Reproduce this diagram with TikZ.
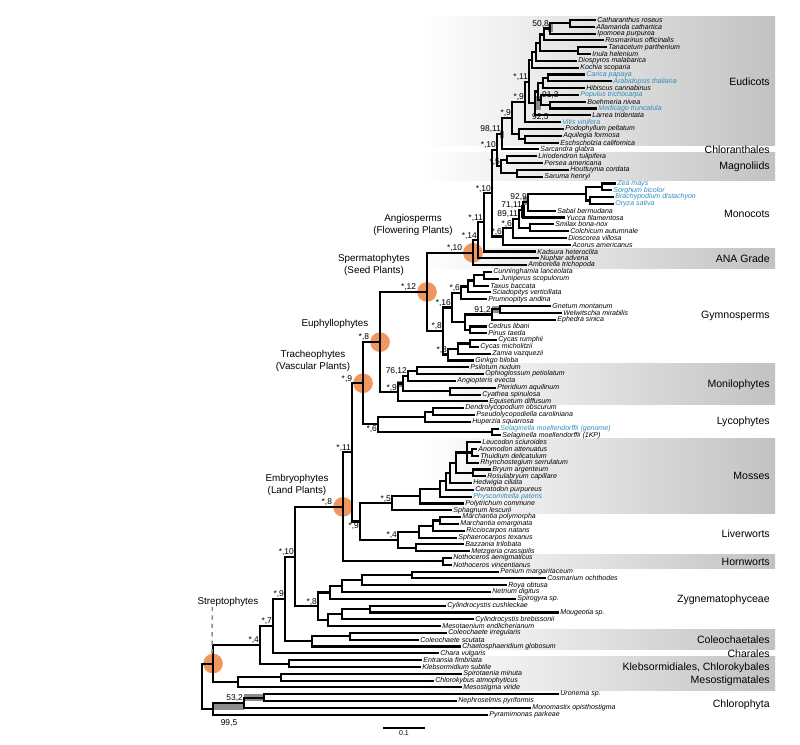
\documentclass[tikz,border=0pt]{standalone}
\usepackage{fontspec}
\setmainfont{Liberation Sans}
\usetikzlibrary{calc,backgrounds}
\definecolor{sppblue}{RGB}{45,140,185}
\definecolor{nodeorange}{RGB}{240,150,95}
\definecolor{boxgray}{RGB}{140,140,140}
\tikzset{
  branch/.style={line width=1.5pt},
  leaf/.style={font=\fontsize{5}{6}\selectfont\itshape, anchor=west, inner sep=0.8pt},
  supp/.style={font=\fontsize{6}{7}\selectfont, inner sep=0.6pt},
  grp/.style={font=\fontsize{7.5}{9}\selectfont, anchor=east, inner sep=0pt},
  note/.style={font=\fontsize{7}{8.5}\selectfont, align=center, inner sep=0pt},
  hit/.style={fill=nodeorange, draw=none},
  ubox/.style={fill=boxgray, draw=none},
}
% clade: name, x, children (first and last fix the height)
\newcommand{\mkclade}[3]{%
  \foreach \ch [count=\k] in {#3}{\ifnum\k=1 \xdef\cfirst{\ch}\fi\xdef\clast{\ch}}%
  \path ($(\cfirst)!.5!(\clast)$) coordinate (#1m);
  \coordinate (#1) at (#2,0 |- #1m);
  \foreach \ch in {#3}{\draw[branch] (#1) |- (\ch);}
}
\newcommand{\supp}[3][]{\node[supp, anchor=south east, #1] (b-#2) at (#2) {#3};}
\newcommand{\band}[2]{\shade[left color=white, right color=black!24] (420,{16.6+6.81*(#1-1)}) rectangle (775,{23.4+6.81*(#2-1)});}
\begin{document}
\begin{tikzpicture}[x=0.025cm, y=-0.025cm]
\useasboundingbox (0,0) rectangle (800,744);

% leaves
\foreach \nm/\tx/\col [count=\i] in {
  Catharanthus roseus/596/black, Allamanda cathartica/595/black,
  Ipomoea purpurea/596/black, Rosmarinus officinalis/604/black,
  Tanacetum parthenium/607/black, Inula helenium/591/black,
  Diospyros malabarica/577/black, Kochia scoparia/579/black,
  Carica papaya/585/sppblue, Arabidopsis thaliana/612/sppblue,
  Hibiscus cannabinus/585/black, Populus trichocarpa/579/sppblue,
  Boehmeria nivea/586/black, Medicago truncatula/597/sppblue,
  Larrea tridentata/591/black, Vitis vinifera/561/sppblue,
  Podophyllum peltatum/564/black, Aquilegia formosa/562/black,
  Eschscholzia californica/559/black, Sarcandra glabra/539/black,
  Liriodendron tulipifera/537/black, Persea americana/543/black,
  Houttuynia cordata/569/black, Saruma henryi/543/black,
  Zea mays/616/sppblue, Sorghum bicolor/612/sppblue,
  Brachypodium distachyon/614/sppblue, Oryza sativa/614/sppblue,
  Sabal bermudana/556/black, Yucca filamentosa/565/black,
  Smilax bona-nox/554/black, Colchicum autumnale/569/black,
  Dioscorea villosa/567/black, Acorus americanus/571/black,
  Kadsura heteroclita/536/black, Nuphar advena/539/black,
  Amborella trichopoda/527/black,
  Cunninghamia lanceolata/492/black, Juniperus scopulorum/499/black,
  Taxus baccata/489/black, Sciadopitys verticillata/491/black,
  Prumnopitys andina/487/black, Gnetum montanum/551/black,
  Welwitschia mirabilis/562/black, Ephedra sinica/556/black,
  Cedrus libani/487/black, Pinus taeda/487/black,
  Cycas rumphii/497/black, Cycas micholitzii/479/black,
  Zamia vazquezii/491/black, Ginkgo biloba/474/black,
  Psilotum nudum/469/black, Ophioglossum petiolatum/484/black,
  Angiopteris evecta/456/black, Pteridium aquilinum/496/black,
  Cyathea spinulosa/481/black, Equisetum diffusum/488/black,
  Dendrolycopodium obscurum/464/black, Pseudolycopodiella caroliniana/475/black,
  Huperzia squarrosa/471/black, Selaginella moellendorffii (genome)/499/sppblue,
  Selaginella moellendorffii (1KP)/501/black,
  Leucodon sciuroides/481/black, Anomodon attenuatus/477/black,
  Thuidium delicatulum/479/black, Rhynchostegium serrulatum/479/black,
  Bryum argenteum/491/black, Rosulabryum capillare/486/black,
  Hedwigia ciliata/472/black, Ceratodon purpureus/474/black,
  Physcomitrella patens/472/sppblue, Polytrichum commune/464/black,
  Sphagnum lescurii/452/black,
  Marchantia polymorpha/461/black, Marchantia emarginata/459/black,
  Ricciocarpos natans/465/black, Sphaerocarpos texanus/457/black,
  Bazzania trilobata/464/black, Metzgeria crassipilis/470/black,
  Nothoceros aenigmaticus/452/black, Nothoceros vincentianus/452/black,
  Penium margaritaceum/499/black, Cosmarium ochthodes/546/black,
  Roya obtusa/507/black, Netrium digitus/491/black,
  Spirogyra sp./516/black, Cylindrocystis cushleckae/446/black,
  Mougeotia sp./559/black, Cylindrocystis brebissonii/474/black,
  Mesotaenium endlicherianum/441/black,
  Coleochaete irregularis/447/black, Coleochaete scutata/419/black,
  Chaetosphaeridium globosum/461/black, Chara vulgaris/439/black,
  Entransia fimbriata/422/black, Klebsormidium subtile/421/black,
  Spirotaenia minuta/462/black, Chlorokybus atmophyticus/434/black,
  Mesostigma viride/462/black,
  Uronema sp./559/black, Nephroselmis pyriformis/457/black,
  Monomastix opisthostigma/531/black, Pyramimonas parkeae/488/black}{
  \coordinate (L\i) at (\tx,{20+6.81*(\i-1)});
  \node[leaf, text=\col] (T\i) at (L\i) {\nm};
}

% Eudicots
\mkclade{e1}{570}{L1,L2}
\mkclade{e2}{550}{e1,L3}
\mkclade{e3}{544}{e2,L4}
\mkclade{e4}{578}{L5,L6}
\mkclade{e5}{540}{e3,e4}
\mkclade{e6}{536}{e5,L7}
\mkclade{e7}{532}{e6,L8}
\mkclade{r1}{548}{L9,L10}
\mkclade{r2}{543}{r1,L11}
\mkclade{r3}{550}{L13,L14}
\mkclade{r4}{541}{L12,r3}
\mkclade{r5}{538}{r2,r4}
\mkclade{r6}{535}{r5,L15}
\mkclade{e8}{529}{e7,r6}
\mkclade{e9}{525}{e8,L16}
\mkclade{p1}{525}{L18,L19}
\mkclade{p2}{519}{L17,p1}
\mkclade{e10}{512}{e9,p2}
\mkclade{a2}{502}{e10,L20}
% Magnoliids
\mkclade{m1}{507}{L21,L22}
\mkclade{m2}{517}{L23,L24}
\mkclade{mag}{501}{m1,m2}
\mkclade{a3}{497}{a2,mag}
% Monocots
\mkclade{n1}{602}{L25,L26}
\mkclade{n2}{590}{L27,L28}
\mkclade{n3}{586}{n1,n2}
\mkclade{n4}{528}{n3,L29}
\mkclade{n5}{523}{n4,L30}
\mkclade{n6}{530}{L31,L32}
\mkclade{n7}{519}{n5,n6}
\mkclade{n8}{513}{n7,L33}
\mkclade{mono}{503}{n8,L34}
\mkclade{a4}{492}{a3,mono}
% ANA grade
\mkclade{a5}{484}{a4,L35}
\mkclade{a6}{478}{a5,L36}
\mkclade{a7}{473}{a6,L37}
% Gymnosperms
\mkclade{c1}{484}{L38,L39}
\mkclade{c2}{474}{c1,L40}
\mkclade{c3}{468}{c2,L41}
\mkclade{c4}{461}{c3,L42}
\mkclade{g1}{500}{L43,L44}
\mkclade{g2}{492}{g1,L45}
\mkclade{pin}{470}{L46,L47}
\mkclade{g3}{465}{g2,pin}
\mkclade{g4}{452}{c4,g3}
\mkclade{y1}{470}{L48,L49}
\mkclade{y2}{458}{y1,L50}
\mkclade{y3}{448}{y2,L51}
\mkclade{gym}{443}{g4,y3}
\mkclade{seed}{427}{a7,gym}
% Monilophytes
\mkclade{f1}{417}{L52,L53}
\mkclade{f2}{408}{f1,L54}
\mkclade{f3}{450}{L55,L56}
\mkclade{f4}{403}{f2,f3}
\mkclade{f5}{398}{f4,L57}
\mkclade{eu}{380}{seed,f5}
% Lycophytes
\mkclade{l1}{433}{L58,L59}
\mkclade{l2}{425}{l1,L60}
\mkclade{l3}{492}{L61,L62}
\mkclade{lyc}{378}{l2,l3}
\mkclade{tr}{363}{eu,lyc}
% Mosses
\mkclade{s1}{472}{L64,L65}
\mkclade{s2}{467}{L63,s1,L66}
\mkclade{s3}{473}{L67,L68}
\mkclade{s4}{456}{s2,s3}
\mkclade{s5}{450}{s4,L69}
\mkclade{s6}{446}{s5,L70}
\mkclade{s7}{440}{s6,L71}
\mkclade{s8}{420}{s7,L72}
\mkclade{moss}{392}{s8,L73}
% Liverworts
\mkclade{v1}{440}{L74,L75}
\mkclade{v2}{433}{v1,L76}
\mkclade{v3}{419}{v2,L77}
\mkclade{v4}{416}{L78,L79}
\mkclade{liv}{398}{v3,v4}
\mkclade{bry}{360}{moss,liv}
\mkclade{t11}{352}{tr,bry}
% Hornworts
\mkclade{horn}{443}{L80,L81}
\mkclade{emb}{343}{t11,horn}
% Zygnematophyceae
\mkclade{z1}{412}{L82,L83}
\mkclade{z2}{362}{z1,L84}
\mkclade{z3}{342}{z2,L85}
\mkclade{z4}{330}{z3,L86}
\mkclade{z5}{370}{L87,L88}
\mkclade{z6}{342}{z5,L89}
\mkclade{z7}{328}{z6,L90}
\mkclade{zyg}{318}{z4,z7}
\mkclade{k10}{295}{emb,zyg}
% Coleochaetales, Charales, Klebsormidiales
\mkclade{o1}{350}{L91,L92}
\mkclade{col}{312}{o1,L93}
\mkclade{k9}{285}{k10,col}
\mkclade{k8}{273}{k9,L94}
\mkclade{kl}{289}{L95,L96}
\mkclade{k7}{260}{k8,kl}
\mkclade{me1}{281}{L97,L98}
\mkclade{meso}{238}{me1,L99}
\mkclade{str}{213}{k7,meso}
% Chlorophyta
\mkclade{h1}{264}{L100,L101}
\mkclade{h2}{244}{h1,L102}
\mkclade{chl}{213}{h2,L103}
\mkclade{root}{202}{str,chl}

% support values
\supp{e2}{50,8} \supp{e8}{*,11} \supp{e9}{*,9} \supp{e10}{*,9}
\supp{a2}{98,11} \supp{a3}{*,10} \supp{mag}{*,5} \supp{a4}{*,10}
\supp{n4}{92,9} \supp{n5}{71,11} \supp{n7}{89,11} \supp{n8}{*,6}
\supp{mono}{*,6} \supp{a5}{*,11} \supp{a6}{*,14} \supp[xshift=-7pt]{a7}{*,10}
\supp{c4}{*,6} \supp{g2}{91,2} \supp{g4}{*,16} \supp{y3}{*,8}
\supp{gym}{*,8} \supp[xshift=-7pt]{seed}{*,12} \supp{f2}{76,12} \supp{f5}{*,9}
\supp[xshift=-7pt]{eu}{*,8} \supp[anchor=north east]{lyc}{*,6}
\supp[xshift=-7pt]{tr}{*,9} \supp{t11}{*,11} \supp{moss}{*,5} \supp{liv}{*,4}
\supp[anchor=north east]{bry}{*,9} \supp[xshift=-7pt]{emb}{*,8}
\supp{zyg}{*,8} \supp{k10}{*,10} \supp{k9}{*,9} \supp{k8}{*,7}
\supp{k7}{*,4} \supp{h2}{53,2}
\node[supp, anchor=south west] (b-r4) at (r4) {91,3};
\node[supp, anchor=south west] (b-vit) at ($(e9|-L16)+(6,0)$) {92,5};
\node[supp, anchor=north] (b-chl) at ($(chl)+(16,10)$) {99,5};

% named clades
\node[note] (angio) at (413,225) {Angiosperms\\(Flowering Plants)};
\node[note] (sperm) at (374,265) {Spermatophytes\\(Seed Plants)};
\node[note] (euph) at (335,324) {Euphyllophytes};
\node[note] (trach) at (313,361) {Tracheophytes\\(Vascular Plants)};
\node[note] (embr) at (297,485) {Embryophytes\\(Land Plants)};
\node[note] (strlab) at (228,602) {Streptophytes};
\coordinate (strtip) at ($(str)+(-1,-9)$);
\draw[boxgray, dashed, line width=1.1pt] ($(strlab.south west)+(15,0)$) -- (strtip);

% groups on the right
\foreach \gn/\gy [count=\j] in {Eudicots/81.3, Chloranthales/149.4, Magnoliids/166.4,
  Monocots/214, ANA Grade/258.3, Gymnosperms/316, Monilophytes/384.7, Lycophytes/421.8,
  Mosses/476, Liverworts/534, Hornworts/562, Zygnematophyceae/599.4,
  Coleochaetales/640.2, Charales/653.3, Mesostigmatales/681, Chlorophyta/705}
  \node[grp] (G\j) at (770,\gy) {\gn};
\node[grp] (Gkc) at (770,668) {Klebsormidiales, Chlorokybales};

% scale bar
\coordinate (sb0) at (383,728);
\coordinate (sb1) at (425,728);
\draw[line width=1.2pt] (sb0) -- (sb1);
\node[font=\fontsize{5}{6}\selectfont, below, inner sep=1.5pt] (sbl) at ($(sb0)!.5!(sb1)$) {0.1};

\begin{scope}[on background layer]
  \band{1}{19} \band{21}{24} \band{35}{37} \band{52}{57}
  \band{63}{73} \band{80}{81} \band{91}{93} \band{95}{99}
  % uncertain branches
  \fill[ubox] (548,24) rectangle (553,32);
  \fill[ubox] (536,96) rectangle (541,110);
  \fill[ubox] (500,131) rectangle (504,138);
  \fill[ubox] (523,197) rectangle (529,205);
  \fill (521,205) rectangle (525,218);
  \fill[ubox] (492,306) rectangle (500,313);
  \fill[ubox] (397,381) rectangle (403,387);
  \fill[ubox] (244,694) rectangle (264,701);
  \fill[ubox] (213,702) rectangle (244,710);
  % key nodes
  \foreach \hn in {a7,seed,eu,tr,emb,str}
    \fill[hit] (\hn) circle (7pt);
\end{scope}
\end{tikzpicture}
\end{document}
